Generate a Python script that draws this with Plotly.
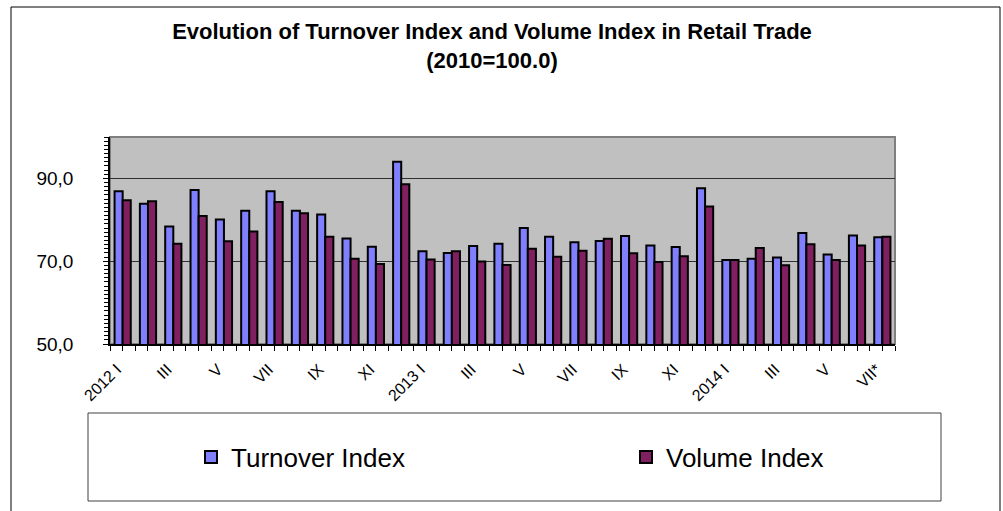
import plotly.graph_objects as go

# ---- data ----
months = ["2012 I", "II", "III", "IV", "V", "VI", "VII", "VIII", "IX", "X", "XI", "XII",
          "2013 I", "II", "III", "IV", "V", "VI", "VII", "VIII", "IX", "X", "XI", "XII",
          "2014 I", "II", "III", "IV", "V", "VI", "VII*"]
turnover = [86.9, 83.9, 78.4, 87.2, 80.1, 82.2, 86.9, 82.2, 81.3, 75.5, 73.5, 94.0,
            72.4, 72.0, 73.7, 74.2, 78.0, 75.9, 74.6, 74.9, 76.1, 73.8, 73.4, 87.6,
            70.3, 70.6, 70.9, 76.8, 71.6, 76.2, 75.8]
volume = [84.7, 84.5, 74.2, 80.9, 74.8, 77.2, 84.3, 81.6, 75.9, 70.6, 69.3, 88.6,
          70.4, 72.4, 69.9, 69.1, 73.0, 71.1, 72.5, 75.4, 71.9, 69.8, 71.2, 83.2,
          70.3, 73.2, 69.0, 74.1, 70.3, 73.8, 75.9]
series_names = ["Turnover Index", "Volume Index"]
y_ticks = [50, 70, 90]

x = list(range(len(months)))
tick_pos = x[::2]
tick_text = months[::2]

FONT = "Arial, 'Liberation Sans', sans-serif"

fig = go.Figure()
fig.add_trace(go.Bar(x=x, y=turnover, name=series_names[0], legend="legend",
                     marker=dict(color="#8080FF", line=dict(color="black", width=2))))
fig.add_trace(go.Bar(x=x, y=volume, name=series_names[1], legend="legend2",
                     marker=dict(color="#802060", line=dict(color="black", width=2))))

# plot area geometry (pixels)
L, R, T, B = 110, 895, 137, 344
W, H = 1003, 511
pw, ph = R - L, B - T

def px(v):
    return (v - L) / pw

def py(v):
    return (B - v) / ph

legend_common = dict(
    orientation="h", xanchor="left", yanchor="middle", y=py(457),
    font=dict(size=26, family=FONT, color="black"),
    bgcolor="rgba(0,0,0,0)", borderwidth=0,
)

fig.update_layout(
    width=W, height=H,
    margin=dict(l=L, r=W - R, t=T, b=H - B, pad=0),
    paper_bgcolor="white",
    plot_bgcolor="#C0C0C0",
    separators=",.",
    barmode="group",
    bargap=0.36,
    bargroupgap=0,
    font=dict(family=FONT, color="black"),
    title=dict(
        text="<b>Evolution of Turnover Index and Volume Index in Retail Trade</b><br><b>(2010=100.0)</b>",
        x=492 / W, xanchor="center",
        y=1 - 39 / H, yanchor="top",
        font=dict(size=22, family=FONT, color="black"),
    ),
    showlegend=True,
    legend=dict(x=px(191), **legend_common),
    legend2=dict(x=px(626), **legend_common),
    xaxis=dict(
        range=[-0.5, len(months) - 0.5],
        tickmode="array", tickvals=tick_pos, ticktext=tick_text,
        tickangle=-45,
        tickfont=dict(size=16, family=FONT, color="black"),
        ticks="outside", ticklen=5, tickcolor="black", tickwidth=1,
        ticklabelshift=-6, ticklabelstandoff=3,
        minor=dict(dtick=0.5, tick0=-0.5, ticks="outside", ticklen=5,
                   tickcolor="black", tickwidth=1, showgrid=False),
        showgrid=False, zeroline=False,
        showline=True, linecolor="black", linewidth=1.5,
    ),
    yaxis=dict(
        range=[50, 100],
        tickmode="array", tickvals=y_ticks, tickformat=".1f",
        tickfont=dict(size=19, family=FONT, color="black"),
        ticks="outside", ticklen=5, tickcolor="black", tickwidth=1,
        ticklabelstandoff=26,
        minor=dict(dtick=1, tick0=50, ticks="outside", ticklen=4,
                   tickcolor="black", tickwidth=1, showgrid=False),
        showgrid=True, gridcolor="#303030", gridwidth=1,
        zeroline=False,
        showline=True, linecolor="black", linewidth=1.5,
    ),
    shapes=[
        dict(type="rect", xref="paper", yref="paper", x0=0, x1=1, y0=0, y1=1,
             line=dict(color="#808080", width=2), fillcolor="rgba(0,0,0,0)", layer="below"),
        dict(type="rect", xref="paper", yref="paper",
             x0=px(88), x1=px(941), y0=py(501), y1=py(413),
             line=dict(color="#404040", width=1), fillcolor="rgba(0,0,0,0)"),
        dict(type="rect", xref="paper", yref="paper",
             x0=px(11), x1=px(1000), y0=py(530), y1=py(7),
             line=dict(color="black", width=1), fillcolor="rgba(0,0,0,0)"),
    ],
)

fig.write_html("out.html", config={"displayModeBar": False},
               post_script="document.body.style.margin='0px';")
